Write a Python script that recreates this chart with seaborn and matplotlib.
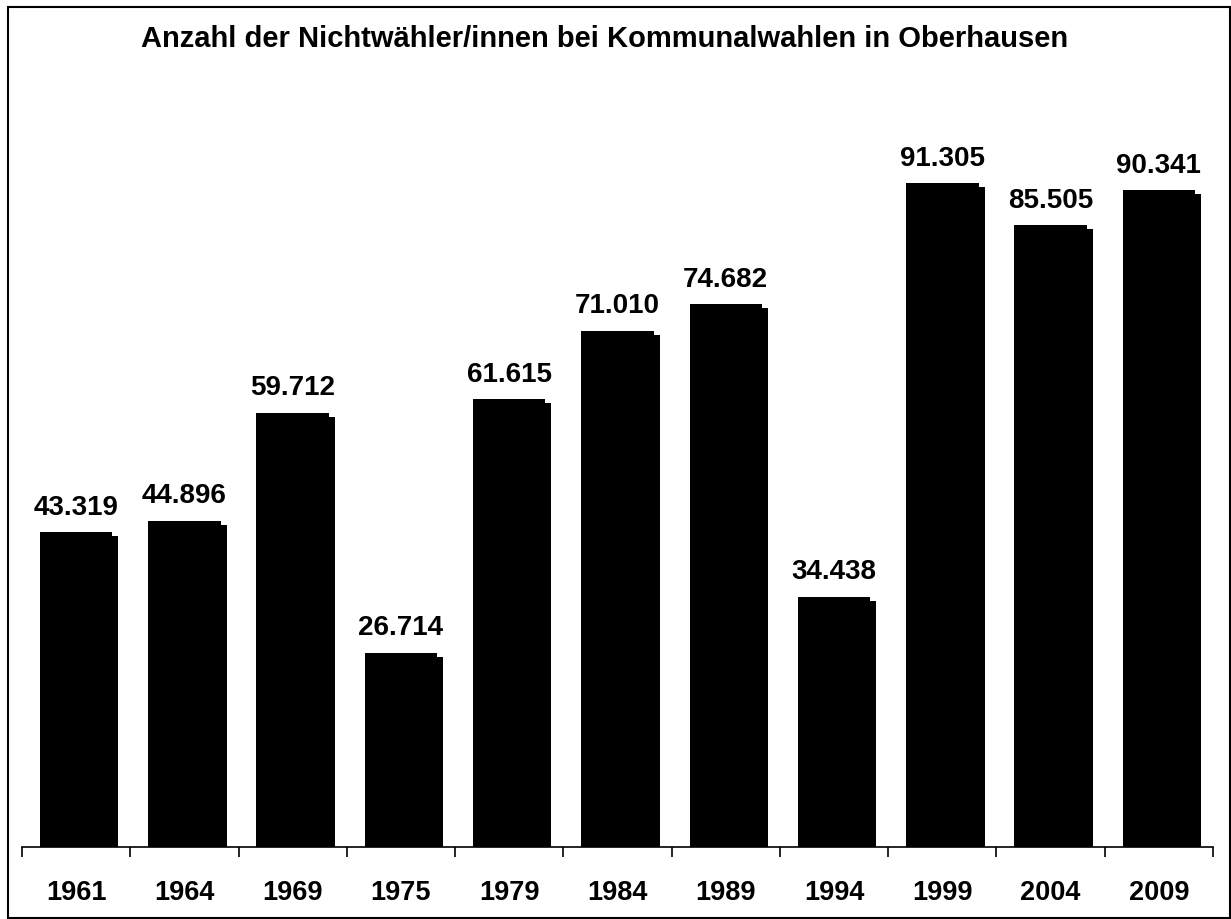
import matplotlib
matplotlib.use('Agg')
import matplotlib.pyplot as plt
import matplotlib.patheffects as pe
from matplotlib.patches import Rectangle
from matplotlib.ticker import FixedLocator
import seaborn as sns
import pandas as pd

# ── Data ──────────────────────────────────────
YEARS = ['1961', '1964', '1969', '1975', '1979', '1984',
         '1989', '1994', '1999', '2004', '2009']
NONVOTERS = [43319, 44896, 59712, 26714, 61615, 71010,
             74682, 34438, 91305, 85505, 90341]
TITLE = 'Anzahl der Nichtwähler/innen bei Kommunalwahlen in Oberhausen'

df = pd.DataFrame({'year': YEARS, 'count': NONVOTERS})

sns.set_theme(style='white')
plt.rcParams['font.family'] = ['Liberation Sans', 'DejaVu Sans']
plt.rcParams['text.color'] = 'black'
plt.rcParams['xtick.color'] = 'black'

fig = plt.figure(figsize=(12.31, 9.2), dpi=100)
W, H = 1231, 920
ax = fig.add_axes([22 / W, (H - 848) / H, (1213 - 22) / W, (848 - 121) / H])

sns.barplot(data=df, x='year', y='count', color='black', width=0.67,
            saturation=1, ax=ax)

# drop shadow, offset right/down like the original
for p in ax.patches:
    p.set_edgecolor('none')
    p.set_path_effects([
        pe.SimplePatchShadow(offset=(4.3, -2.9), shadow_rgbFace='black', alpha=1),
        pe.Normal(),
    ])

labels = [f'{v:,}'.replace(',', '.') for v in NONVOTERS]
ax.bar_label(ax.containers[0], labels=labels, padding=9,
             fontsize=20, fontweight='bold', color='black')

ax.set_ylim(0, 100000)
ax.set_xlim(-0.5, len(YEARS) - 0.5)
ax.set_xlabel('')
ax.set_ylabel('')
ax.set_yticks([])

# labels under the bars, tick marks between categories
ax.tick_params(axis='x', which='major', length=0, pad=23,
               labelsize=19.5, labelcolor='black')
for t in ax.get_xticklabels():
    t.set_fontweight('bold')
ax.xaxis.set_minor_locator(FixedLocator([i - 0.5 for i in range(len(YEARS) + 1)]))
ax.tick_params(axis='x', which='minor', bottom=True, direction='out',
               length=7, width=1.2, color='black')

for s in ['top', 'right', 'left']:
    ax.spines[s].set_visible(False)
ax.spines['bottom'].set_color('black')
ax.spines['bottom'].set_linewidth(1.2)

fig.text(605 / W, 1 - 39 / H, TITLE, ha='center', va='center',
         fontsize=21, fontweight='bold', color='black')

# outer frame
fig.patches.append(Rectangle((8 / W, 1 / H), (1230 - 8) / W, (911) / H,
                             transform=fig.transFigure, fill=False,
                             edgecolor='black', linewidth=1.5))

fig.savefig('out.png', dpi=100)
plt.close(fig)
